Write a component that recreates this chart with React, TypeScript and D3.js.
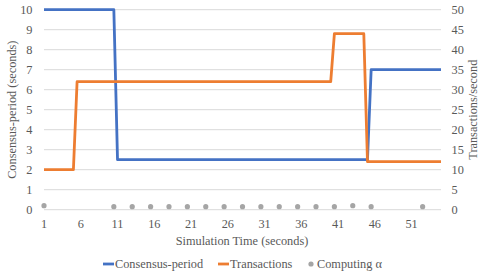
import React from "react";
import * as d3 from "d3";

const consensusTimes = [1, 10.5, 11, 45, 45.5, 55];
const consensusValues = [10, 10, 2.5, 2.5, 7, 7];
const txTimes = [1, 5, 5.5, 40, 40.5, 44.5, 45, 55];
const txValues = [10, 10, 32, 32, 44, 44, 12, 12];
const alphaTimes = [1, 10.5, 13, 15.5, 18, 20.5, 23, 25.5, 28, 30.5, 33, 35.5, 38, 40.5, 43, 45.5, 52.5];
const alphaValues = [0.2, 0.15, 0.15, 0.15, 0.15, 0.15, 0.15, 0.15, 0.15, 0.15, 0.15, 0.15, 0.15, 0.15, 0.2, 0.15, 0.15];
const xTickLabels = [1, 6, 11, 16, 21, 26, 31, 36, 41, 46, 51];
const leftTicks = [0, 1, 2, 3, 4, 5, 6, 7, 8, 9, 10];
const rightTicks = [0, 5, 10, 15, 20, 25, 30, 35, 40, 45, 50];

export default function App() {
  const W = 491, H = 276;
  const x = d3.scaleLinear().domain([1, 55]).range([44, 441]);
  const yL = d3.scaleLinear().domain([0, 10]).range([209.7, 9.7]);
  const yR = d3.scaleLinear().domain([0, 50]).range([209.7, 9.7]);
  const font = "'Liberation Serif', 'Times New Roman', Times, 'DejaVu Serif', serif";
  const textColor = "#595959";
  const ts: React.CSSProperties = { fontFamily: font, fontSize: "12.3px" };

  const lineL = d3.line<number>().x((_, i) => x(consensusTimes[i])).y((d) => yL(d));
  const lineR = d3.line<number>().x((_, i) => x(txTimes[i])).y((d) => yR(d));

  return (
    <svg width={W} height={H} style={{ position: "absolute", left: 0, top: 0, background: "#fff", fontFamily: font }}>
      {leftTicks.map((t) => (
        <line key={"g" + t} x1={44} x2={441} y1={yL(t)} y2={yL(t)} stroke="#d9d9d9" strokeWidth={1} />
      ))}
      {leftTicks.map((t) => (
        <text key={"l" + t} x={32.5} y={yL(t)} dy="0.35em" textAnchor="end" style={ts} fill={textColor}>{t}</text>
      ))}
      {rightTicks.map((t) => (
        <text key={"r" + t} x={451.5} y={yR(t)} dy="0.35em" textAnchor="start" style={ts} fill={textColor}>{t}</text>
      ))}
      {xTickLabels.map((t) => (
        <text key={"x" + t} x={x(t)} y={228} textAnchor="middle" style={ts} fill={textColor}>{t}</text>
      ))}
      <text x={242} y={245} textAnchor="middle" style={ts} fill={textColor}>Simulation Time (seconds)</text>
      <text transform={`translate(16,${yL(5)}) rotate(-90)`} textAnchor="middle" style={ts} fill={textColor}>Consensus-period (seconds)</text>
      <text transform={`translate(477,${yL(5)}) rotate(-90)`} textAnchor="middle" style={ts} fill={textColor}>Transactions/second</text>

      <path d={lineL(consensusValues) || ""} fill="none" stroke="#4472C4" strokeWidth={2.8} strokeLinejoin="round" />
      <path d={lineR(txValues) || ""} fill="none" stroke="#ED7D31" strokeWidth={2.8} strokeLinejoin="round" />
      {alphaValues.map((v, i) => (
        <circle key={"a" + i} cx={x(alphaTimes[i])} cy={yL(v)} r={2.6} fill="#A5A5A5" />
      ))}

      <g fill={textColor}>
        <line x1={103} x2={114} y1={264} y2={264} stroke="#4472C4" strokeWidth={2.8} />
        <text x={115} y={264} dy="0.35em" style={ts}>Consensus-period</text>
        <line x1={218} x2={229} y1={264} y2={264} stroke="#ED7D31" strokeWidth={2.8} />
        <text x={230} y={264} dy="0.35em" style={ts}>Transactions</text>
        <circle cx={311} cy={264} r={2.6} fill="#A5A5A5" />
        <text x={317} y={264} dy="0.35em" style={ts}>Computing α</text>
      </g>
    </svg>
  );
}
